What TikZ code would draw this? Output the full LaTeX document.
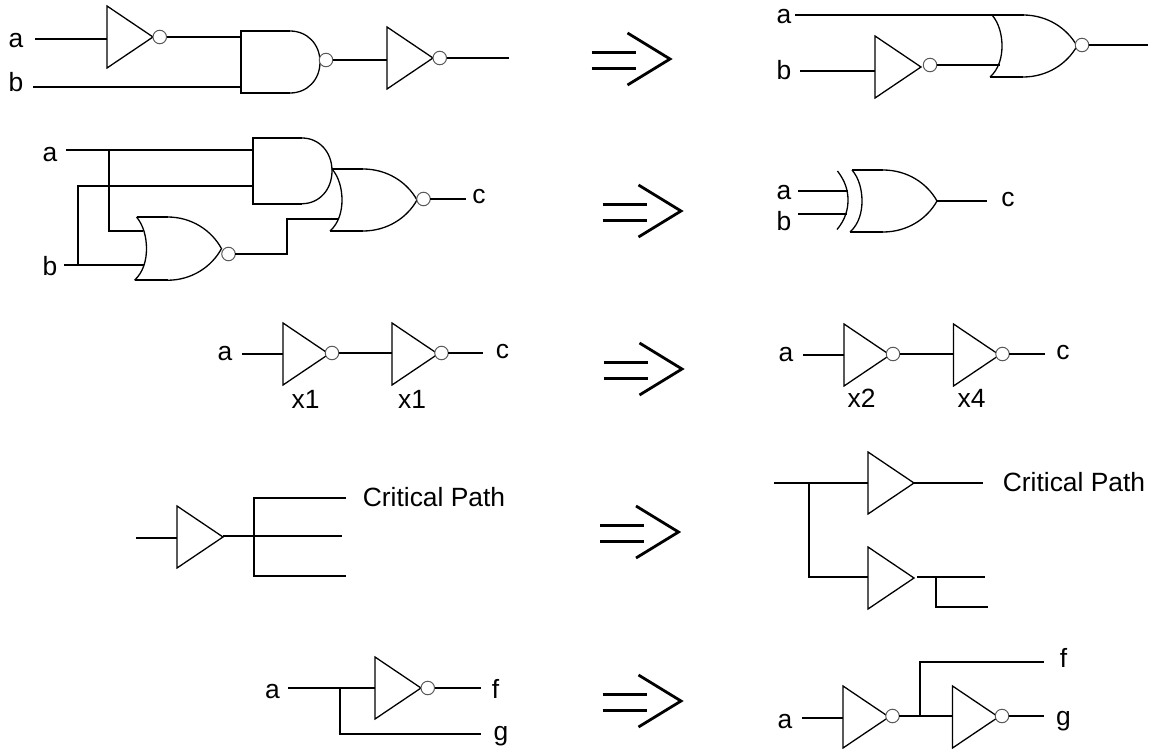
\documentclass[tikz,border=0pt]{standalone}
\usepackage{fontspec}
\setmainfont{Liberation Sans}
\usetikzlibrary{positioning,shapes.geometric}
\tikzset{
  wire/.style={line width=2pt},
  body/.style={line width=1.3pt},
  lbl/.style={anchor=base, inner sep=0pt, font=\fontsize{26.4}{30}\selectfont},
  tri/.style={draw, line width=1.3pt, isosceles triangle, isosceles triangle stretches, anchor=west,
    minimum width=62pt, minimum height=46pt, inner sep=0pt, outer sep=0pt},
  bub/.style={draw=black!65, fill=white, line width=1pt, circle, minimum size=13.5pt, inner sep=0pt, outer sep=0pt},
  andbody/.pic={
    \coordinate (-w) at (0,31);
    \coordinate (-tip) at (79,31);
    \draw[wire] (49,0) -- (0,0) -- (0,62) -- (49,62);
    \draw[body] (49,0) .. controls (66,0) and (79,13) .. (79,31) .. controls (79,49) and (66,62) .. (49,62);
  },
  orbody/.pic={
    \coordinate (-tip) at (85,31);
    \draw[wire] (0,0) -- (31,0);
    \draw[wire] (-2,62) -- (31,62);
    \draw[body] (0,0) .. controls (7,8) and (10,20) .. (10,31) .. controls (10,42) and (7,54) .. (-2,62);
    \draw[body] (31,0) .. controls (55,0) and (75,13) .. (85,31) .. controls (75,49) and (55,62) .. (31,62);
  },
  impl/.pic={
    \draw[line width=3pt] (-81,-6.5) -- (-37,-6.5);
    \draw[line width=3pt] (-81,9.5) -- (-37,9.5);
    \draw[line width=2.8pt] (-45,-26) -- (-2.5,0) -- (-45,26);
  }
}
\begin{document}
\begin{tikzpicture}[x=1pt,y=-1pt]
\useasboundingbox (0,0) rectangle (1151,749);
% the five arrows
\pic at (672.5,59) {impl};
\pic at (683.5,211) {impl};
\pic at (684.5,369) {impl};
\pic at (681,532) {impl};
\pic at (683.5,701) {impl};
% row 1, left
\node [lbl] (l1a) at (16,48) {a};
\node [lbl] (l1b) at (16,91.5) {b};
\coordinate (l1ain) at (35,39);
\coordinate (l1bin) at (33,87);
\coordinate (l1out) at (509,58);
\node [tri] (l1t1) at (107,37) {};
\node [bub, right=0pt of l1t1.east] (l1o1) {};
\pic (l1nand) at (241,31) {andbody};
\node [bub] (l1o2) at (326,60) {};
\node [tri] (l1t2) at (387,58) {};
\node [bub, right=0pt of l1t2.east] (l1o3) {};
\draw[wire] (l1ain) -- (l1ain -| l1t1.west);
\draw[wire] (l1o1.east) -- (l1o1.east -| l1nand-w);
\draw[wire] (l1bin) -- (l1bin -| l1nand-w);
\draw[wire] (l1o2.east) -- (l1o2.east -| l1t2.west);
\draw[wire] (l1o3.east) -- (l1o3.east -| l1out);
% row 1, right
\node [lbl] (r1a) at (784,24) {a};
\node [lbl] (r1b) at (784,80) {b};
\coordinate (r1ain) at (795,15);
\coordinate (r1bin) at (800,71);
\coordinate (r1end) at (1024,15);
\coordinate (r1out) at (1148,45);
\node [tri] (r1t1) at (875,67) {};
\node [bub] (r1o1) at (930,65) {};
\pic (r1nor) at (992,15) {orbody};
\node [bub] (r1o2) at (1082,45) {};
\coordinate (r1nin) at (1000,65);
\draw[wire] (r1ain) -- (r1end);
\draw[wire] (r1bin) -- (r1bin -| r1t1.west);
\draw[wire] (r1o1.east) -- (r1o1.east -| r1nin);
\draw[wire] (r1o2.east) -- (r1o2.east -| r1out);
% row 2, left
\node [lbl] (l2a) at (50,161) {a};
\node [lbl] (l2b) at (50,275) {b};
\node [lbl] (l2c) at (479,203.5) {c};
\coordinate (l2ain) at (66,150);
\coordinate (l2bin) at (64,265);
\coordinate (l2ja) at (109,150);
\coordinate (l2jb) at (78,265);
\coordinate (l2n1) at (143,231);
\coordinate (l2n2) at (144,265);
\coordinate (l2and2) at (253,186);
\coordinate (l2up) at (287,219);
\coordinate (l2nin) at (339,219);
\coordinate (l2out) at (466,199);
\pic[yscale=1.06] (l2and) at (253,138) {andbody};
\pic[yscale=1.02] (l2low) at (136.5,217) {orbody};
\pic (l2nor) at (332,169) {orbody};
\node [bub] (l2o1) at (228.5,254) {};
\node [bub] (l2o2) at (423.5,199) {};
\draw[wire] (l2ain) -- (l2ain -| l2and-w);
\draw[wire] (l2ja) |- (l2n1);
\draw[wire] (l2bin) -- (l2n2);
\draw[wire] (l2jb) |- (l2and2);
\draw[wire] (l2o1.east) -| (l2up) -- (l2nin);
\draw[wire] (l2o2.east) -- (l2o2.east -| l2out);
% row 2, right
\node [lbl] (r2a) at (784,199) {a};
\node [lbl] (r2b) at (784,230.5) {b};
\node [lbl] (r2c) at (1008,206) {c};
\coordinate (r2ain) at (798,191);
\coordinate (r2bin) at (798,214);
\coordinate (r2ina) at (848,191);
\coordinate (r2inb) at (847,214);
\coordinate (r2out) at (987,201);
\pic (r2xor) at (852,170) {orbody};
\draw[body] (837.5,171) .. controls (845,181) and (848,190) .. (848,200) .. controls (848,210) and (845,220) .. (837,229.5);
\draw[wire] (r2ain) -- (r2ina);
\draw[wire] (r2bin) -- (r2inb);
\draw[wire] (r2xor-tip) -- (r2xor-tip -| r2out);
% row 3, left
\node [lbl] (l3a) at (225,360) {a};
\node [lbl] (l3c) at (502.5,358) {c};
\coordinate (l3ain) at (242,354);
\coordinate (l3out) at (483,353);
\node [tri] (l3t1) at (283,354) {};
\node [bub] (l3o1) at (332,353) {};
\node [tri] (l3t2) at (392,354) {};
\node [bub] (l3o2) at (441.5,353) {};
\node [lbl] (l3x1) at (305.5,408) {x1};
\node [lbl] (l3x2) at (412,408) {x1};
\draw[wire] (l3ain) -- (l3ain -| l3t1.west);
\draw[wire] (l3o1.east) -- (l3o1.east -| l3t2.west);
\draw[wire] (l3o2.east) -- (l3o2.east -| l3out);
% row 3, right
\node [lbl] (r3a) at (786,361) {a};
\node [lbl] (r3c) at (1063,359) {c};
\coordinate (r3ain) at (803,355);
\coordinate (r3out) at (1045,354);
\node [tri] (r3t1) at (844,355) {};
\node [bub] (r3o1) at (893,354) {};
\node [tri] (r3t2) at (953.5,355) {};
\node [bub] (r3o2) at (1002.5,354) {};
\node [lbl] (r3x1) at (861.5,407.5) {x2};
\node [lbl] (r3x2) at (971.5,407.5) {x4};
\draw[wire] (r3ain) -- (r3ain -| r3t1.west);
\draw[wire] (r3o1.east) -- (r3o1.east -| r3t2.west);
\draw[wire] (r3o2.east) -- (r3o2.east -| r3out);
% row 4, left
\node [lbl] (l4p) at (434,506.5) {Critical Path};
\coordinate (l4in) at (136,538);
\coordinate (l4top) at (346,498);
\coordinate (l4mid) at (342,536);
\coordinate (l4bot) at (346,576);
\coordinate (l4j) at (254,536);
\node [tri] (l4t) at (177,537) {};
\draw[wire] (l4in) -- (l4in -| l4t.west);
\draw[wire] (l4j -| l4t.east) -- (l4mid);
\draw[wire] (l4top) -| (l4j) |- (l4bot);
% row 4, right
\node [lbl] (r4p) at (1074,491.5) {Critical Path};
\coordinate (r4in) at (774,483);
\coordinate (r4j) at (809,483);
\coordinate (r4low) at (868,577);
\coordinate (r4top) at (983,483);
\coordinate (r4a) at (917,577);
\coordinate (r4b) at (985,577);
\coordinate (r4k) at (936,577);
\coordinate (r4c) at (988,607);
\node [tri] (r4t1) at (868,483) {};
\node [tri] (r4t2) at (868,578) {};
\draw[wire] (r4in) -- (r4in -| r4t1.west);
\draw[wire] (r4j) |- (r4low);
\draw[wire] (r4t1.east) -- (r4t1.east -| r4top);
\draw[wire] (r4a) -- (r4b);
\draw[wire] (r4k) |- (r4c);
% row 5, left
\node [lbl] (l5a) at (272.5,698.5) {a};
\node [lbl] (l5f) at (495.5,698.5) {f};
\node [lbl] (l5g) at (501,740.5) {g};
\coordinate (l5in) at (288,688);
\coordinate (l5j) at (340,688);
\coordinate (l5g2) at (481,734);
\coordinate (l5out) at (481,688);
\node [tri] (l5t) at (375,688) {};
\node [bub, right=0pt of l5t.east] (l5o) {};
\draw[wire] (l5in) -- (l5in -| l5t.west);
\draw[wire] (l5j) |- (l5g2);
\draw[wire] (l5o.east) -- (l5out);
% row 5, right
\node [lbl] (r5a) at (785,728.5) {a};
\node [lbl] (r5f) at (1063.5,667.5) {f};
\node [lbl] (r5g) at (1063.5,725.5) {g};
\coordinate (r5in) at (802,718);
\coordinate (r5j) at (920,716);
\coordinate (r5f2) at (1044,662);
\coordinate (r5out) at (1044,716);
\node [tri] (r5t1) at (843,717) {};
\node [bub] (r5o1) at (892.5,716) {};
\node [tri] (r5t2) at (952.5,717) {};
\node [bub] (r5o2) at (1002,716) {};
\draw[wire] (r5in) -- (r5in -| r5t1.west);
\draw[wire] (r5o1.east) -- (r5o1.east -| r5t2.west);
\draw[wire] (r5j) |- (r5f2);
\draw[wire] (r5o2.east) -- (r5o2.east -| r5out);
\end{tikzpicture}
\end{document}
